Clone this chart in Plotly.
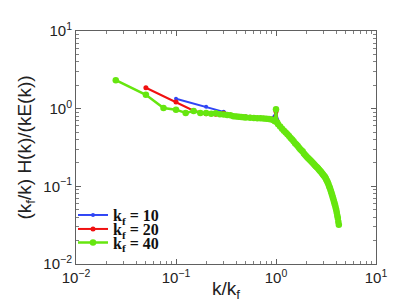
import plotly.graph_objects as go

# k_f = 10
x10 = [0.1, 0.2, 0.3, 0.4, 0.5, 0.6, 0.7, 0.8, 0.9, 1.0, 1.1, 1.2, 1.3, 1.4, 1.5, 1.6, 1.7, 1.8, 1.9, 2.0,
       2.1, 2.2, 2.3, 2.4, 2.5, 2.6, 2.7, 2.8, 2.9, 3.0, 3.1, 3.2, 3.3, 3.4, 3.5, 3.6, 3.7, 3.8, 3.9, 4.0, 4.1, 4.2]
y10 = [1.34, 1.06, 0.91, 0.80, 0.79, 0.78, 0.77, 0.76, 0.74, 0.88, 0.59, 0.52, 0.47, 0.42, 0.38, 0.345, 0.315, 0.29, 0.265, 0.245,
       0.23, 0.216, 0.204, 0.192, 0.182, 0.173, 0.164, 0.155, 0.146, 0.138, 0.131, 0.121, 0.111, 0.100, 0.091, 0.081, 0.072, 0.064, 0.057, 0.050, 0.042, 0.035]

# k_f = 20
x20 = [0.05, 0.1, 0.15, 0.2, 0.25, 0.3, 0.35, 0.4, 0.45, 0.5, 0.55, 0.6, 0.65, 0.7, 0.75, 0.8, 0.85, 0.9, 0.95, 1.0,
       1.05, 1.1, 1.2, 1.3, 1.4, 1.5, 1.6, 1.7, 1.8, 1.9, 2.0, 2.2, 2.4, 2.6, 2.8, 3.0, 3.2, 3.4, 3.6, 3.8, 4.0, 4.2]
y20 = [1.86, 1.22, 0.94, 0.86, 0.85, 0.87, 0.82, 0.80, 0.79, 0.78, 0.775, 0.77, 0.76, 0.755, 0.75, 0.745, 0.74, 0.73, 0.72, 0.92,
       0.63, 0.59, 0.52, 0.47, 0.42, 0.38, 0.345, 0.315, 0.29, 0.265, 0.245, 0.216, 0.192, 0.173, 0.155, 0.138, 0.121, 0.100, 0.081, 0.064, 0.050, 0.035]

# k_f = 40
x40 = [0.025, 0.05, 0.075, 0.1, 0.125, 0.15, 0.175, 0.2, 0.225, 0.25, 0.275, 0.3, 0.325, 0.35, 0.375, 0.4, 0.425, 0.45, 0.475, 0.5,
       0.55, 0.6, 0.65, 0.7, 0.75, 0.8, 0.85, 0.9, 0.95, 0.975, 1.0, 1.025,
       1.05, 1.1, 1.15, 1.2, 1.25, 1.3, 1.35, 1.4, 1.45, 1.5, 1.55, 1.6, 1.65, 1.7, 1.75, 1.8, 1.85, 1.9, 1.95, 2.0,
       2.05, 2.1, 2.15, 2.2, 2.25, 2.3, 2.35, 2.4, 2.45, 2.5, 2.55, 2.6, 2.65, 2.7, 2.75, 2.8, 2.85, 2.9, 2.95, 3.0,
       3.05, 3.1, 3.15, 3.2, 3.25, 3.3, 3.35, 3.4, 3.45, 3.5, 3.55, 3.6, 3.65, 3.7, 3.75, 3.8, 3.85, 3.9, 3.95, 4.0,
       4.05, 4.1, 4.15, 4.2, 4.25]
y40 = [2.33, 1.51, 1.02, 0.97, 0.88, 0.93, 0.88, 0.88, 0.86, 0.87, 0.85, 0.84, 0.83, 0.82, 0.80, 0.79, 0.785, 0.78, 0.775, 0.77,
       0.765, 0.76, 0.755, 0.75, 0.745, 0.74, 0.735, 0.725, 0.71, 0.69, 0.98, 0.67,
       0.63, 0.59, 0.55, 0.52, 0.495, 0.47, 0.445, 0.42, 0.40, 0.38, 0.36, 0.345, 0.33, 0.315, 0.30, 0.29, 0.28, 0.265, 0.255, 0.245,
       0.237, 0.23, 0.223, 0.216, 0.21, 0.204, 0.198, 0.192, 0.187, 0.182, 0.178, 0.173, 0.168, 0.164, 0.159, 0.155, 0.151, 0.146, 0.142, 0.138,
       0.135, 0.131, 0.126, 0.121, 0.116, 0.111, 0.106, 0.100, 0.096, 0.091, 0.086, 0.081, 0.077, 0.072, 0.068, 0.064, 0.060, 0.057, 0.053, 0.050,
       0.046, 0.042, 0.039, 0.035, 0.032]

names = ["k<sub>f</sub> = 10", "k<sub>f</sub> = 20", "k<sub>f</sub> = 40"]
colors = ["#2f45f5", "#f01010", "#66e60f"]

tick_vals = [0.01, 0.1, 1, 10]
tick_text = ["10<sup>−2</sup>", "10<sup>−1</sup>", "10<sup>0</sup>", "10<sup>1</sup>"]
minor_vals = [m * 10 ** e for e in (-2, -1, 0) for m in range(2, 10)]

fig = go.Figure()
series = [(x10, y10, 4, 2), (x20, y20, 5, 2), (x40, y40, 6.5, 2.5)]
legends = ["legend", "legend2", "legend3"]
for (xs, ys, ms, lw), nm, c, lg in zip(series, names, colors, legends):
    fig.add_trace(go.Scatter(x=xs, y=ys, mode="lines+markers", name=nm, legend=lg,
                             line=dict(color=c, width=lw),
                             marker=dict(color=c, size=ms, symbol="circle")))

axis_common = dict(type="log", showgrid=False, zeroline=False, showline=True,
                   linecolor="#606060", linewidth=1, mirror="allticks",
                   ticks="inside", ticklen=5, tickcolor="#606060",
                   tickmode="array", tickvals=tick_vals, ticktext=tick_text,
                   minor=dict(ticks="inside", ticklen=3, tickcolor="#808080", showgrid=False, tickvals=minor_vals),
                   tickfont=dict(family="Liberation Sans, Arial", size=15, color="#222"))

title_font = dict(family="Liberation Sans, Arial", size=19, color="#222")
fig.update_xaxes(range=[-2, 1], **axis_common)
fig.update_yaxes(range=[-2, 1], title=dict(text="(k<sub>f</sub>/k) H(k)/(kE(k))", font=title_font, standoff=6), **axis_common)

fig.add_annotation(text="k/k<sub>f</sub>", xref="paper", yref="paper", x=0.5, y=-0.112,
                   xanchor="center", yanchor="middle", showarrow=False, font=title_font)

leg_common = dict(xanchor="left", yanchor="middle", bgcolor="rgba(0,0,0,0)", borderwidth=0,
                  itemwidth=30,
                  font=dict(family="Liberation Serif, DejaVu Serif", size=16, color="#111", weight="bold"))
fig.update_layout(
    width=407, height=306,
    margin=dict(l=68, r=39, t=23, b=50),
    paper_bgcolor="white", plot_bgcolor="white",
    showlegend=True,
    legend=dict(x=-0.01, y=0.21, **leg_common),
    legend2=dict(x=-0.01, y=0.15, **leg_common),
    legend3=dict(x=-0.01, y=0.092, **leg_common),
)

fig.write_html("out.html")
